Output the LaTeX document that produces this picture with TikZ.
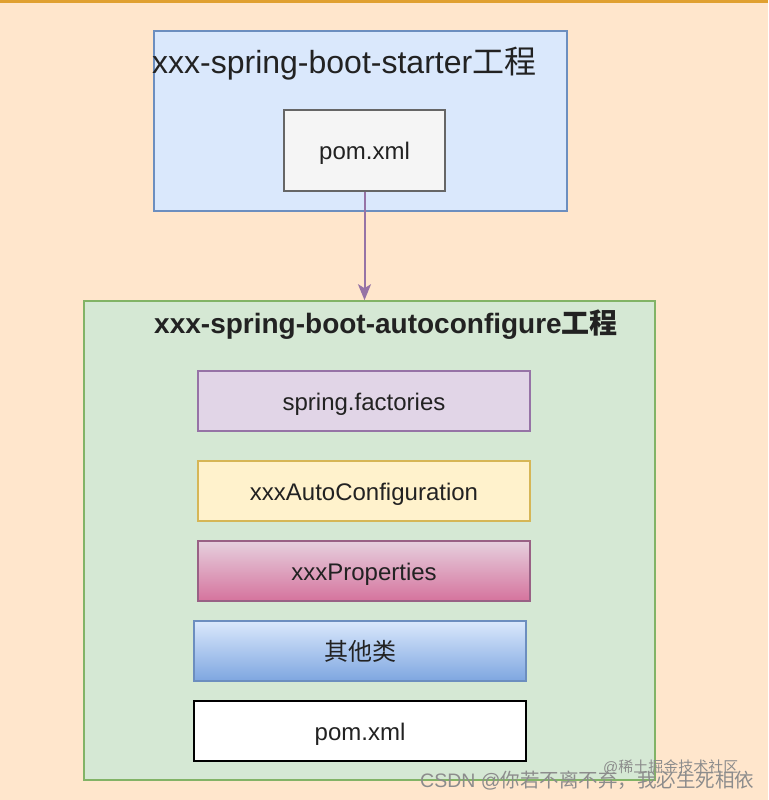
\documentclass[tikz,border=0pt]{standalone}
\usepackage{fontspec}
\setmainfont{Liberation Sans}
\newfontfamily\cjk{Noto Sans CJK SC}
\usetikzlibrary{arrows.meta}
\definecolor{bgc}{HTML}{FFE6CC}
\definecolor{topline}{HTML}{E0A030}
\definecolor{bluefill}{HTML}{DAE8FC}
\definecolor{bluestroke}{HTML}{6C8EBF}
\definecolor{greyfill}{HTML}{F5F5F5}
\definecolor{greystroke}{HTML}{666666}
\definecolor{greenfill}{HTML}{D5E8D4}
\definecolor{greenstroke}{HTML}{82B366}
\definecolor{purplefill}{HTML}{E1D5E7}
\definecolor{purplestroke}{HTML}{9673A6}
\definecolor{yellowfill}{HTML}{FFF2CC}
\definecolor{yellowstroke}{HTML}{D6B656}
\definecolor{pinktop}{HTML}{E6D0DE}
\definecolor{pinkbot}{HTML}{D5739D}
\definecolor{pinkstroke}{HTML}{996185}
\definecolor{bluebot}{HTML}{7EA6E0}
\definecolor{txt}{HTML}{222222}
\tikzset{
  box/.style={rectangle, draw, line width=1.6pt, inner sep=0pt, text=txt,
    font=\fontsize{24}{24}\selectfont, text height=20pt, text depth=2pt},
  wm/.style={text=black!45, inner sep=0pt, anchor=west}
}
\begin{document}
\begin{tikzpicture}[x=1pt,y=-1pt]
\fill[bgc] (0,0) rectangle (768,800);
\useasboundingbox (0,0) rectangle (768,800);
\fill[topline] (0,0) rectangle (768,3);

% starter project
\node[box, draw=bluestroke, fill=bluefill, minimum width=413pt, minimum height=180pt] (starter) at (360.5,121) {};
\node[inner sep=0pt, anchor=west, text=txt, font=\fontsize{32}{32}\selectfont] (starterTitle) at (152,64) {xxx-spring-boot-starter{\cjk 工程}};
\node[box, draw=greystroke, fill=greyfill, minimum width=161pt, minimum height=81pt] (tpom) at (364.5,150.5) {pom.xml};

% autoconfigure project
\node[box, draw=greenstroke, fill=greenfill, minimum width=571pt, minimum height=479pt] (auto) at (369.5,540.5) {};
\node[inner sep=0pt, text=txt, font=\fontsize{28}{28}\selectfont\bfseries] (autoTitle) at (386,325) {xxx-spring-boot-autoconfigure{\cjk\bfseries 工程}};

\node[box, draw=purplestroke, fill=purplefill, minimum width=332pt, minimum height=60pt] (sf) at (364,401) {spring.factories};
\node[box, draw=yellowstroke, fill=yellowfill, minimum width=332pt, minimum height=60pt] (ac) at (364,491) {xxxAutoConfiguration};
\node[box, draw=pinkstroke, top color=pinktop, bottom color=pinkbot, minimum width=332pt, minimum height=60pt] (pr) at (364,571) {xxxProperties};
\node[box, draw=bluestroke, top color=bluefill, bottom color=bluebot, minimum width=332pt, minimum height=60pt] (ot) at (360,651) {\cjk 其他类};
\node[box, draw=black, line width=2.4pt, fill=white, minimum width=332pt, minimum height=60pt] (bpom) at (360,731) {pom.xml};

% connector
\draw[purplestroke, line width=2pt, -{Stealth[length=16pt,width=13pt,inset=4pt]}] (tpom.south) -- (tpom.south |- auto.north);

% watermarks
\node[wm, font=\fontsize{15}{15}\selectfont] (wm2) at (603,767) {@{\cjk 稀土掘金技术社区}};
\node[wm, font=\fontsize{19.5}{19.5}\selectfont] (wm1) at (420,781) {CSDN @{\cjk 你若不离不弃，我必生死相依}};
\end{tikzpicture}
\end{document}
